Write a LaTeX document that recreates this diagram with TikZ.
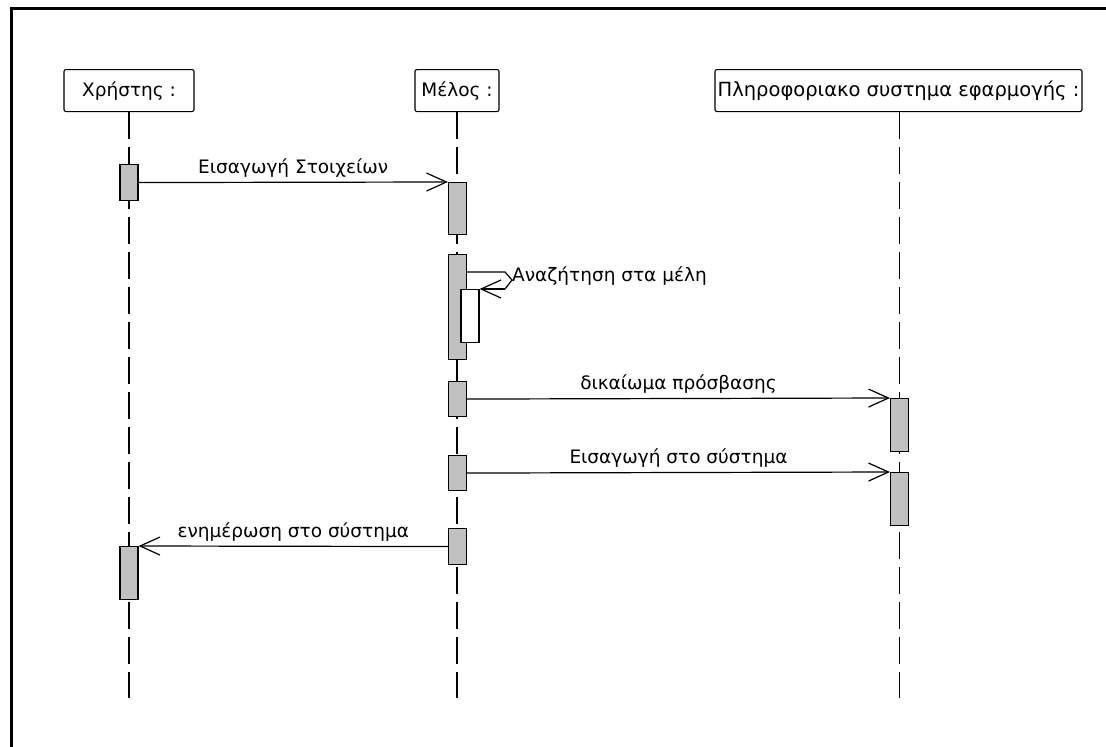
\documentclass[tikz,border=0pt]{standalone}
\usepackage{fontspec}
\setmainfont{DejaVu Sans}
\usetikzlibrary{arrows.meta}
\definecolor{actgray}{HTML}{C0C0C0}
\tikzset{
  txt/.style={font=\fontsize{18.5}{21}\selectfont},
  head/.style={txt, draw, rounded corners=2pt, line width=1.1pt, minimum height=42pt, inner sep=0pt, anchor=north},
  life/.style={line width=1.1pt, dash pattern=on 27pt off 8pt},
  act/.style={draw, fill=actgray, line width=1.1pt, minimum width=18pt, inner sep=0pt, anchor=north},
  nested/.style={draw, fill=white, line width=1.1pt, minimum width=18pt, inner sep=0pt, anchor=north},
  msg/.style={line width=1.2pt, -{Straight Barb[length=20pt,width=18pt,line width=1.2pt]}},
  lbl/.style={txt, anchor=base, yshift=9pt},
  frameline/.style={line width=3pt}
}
\begin{document}
\begin{tikzpicture}[x=1pt,y=-1pt]
\useasboundingbox (0,0) rectangle (1106,747);
\fill[white] (0,0) rectangle (1106,747);
% frame
\draw[frameline] (11,747) -- (11,8.5) -- (1106,8.5);
% heads
\node[head, minimum width=130pt] (hu) at (129,69) {Χρήστης :};
\node[head, minimum width=84pt] (hm) at (457,69) {Μέλος :};
\node[head, minimum width=367pt, font=\fontsize{19.5}{22}\selectfont] (hs) at (898.5,69) {Πληροφοριακο συστημα εφαρμογής :};
% lifeline ends
\coordinate (eu) at (129,698);
\coordinate (em) at (457,698);
\coordinate (es) at (899.5,698);
\draw[life] (hu.south) -- (eu);
\draw[life] (hm.south) -- (em);
\draw[life] (hs.south -| es) -- (es);
% activations
\node[act, minimum height=36pt] (ua1) at (129,164) {};
\node[act, minimum height=53pt] (ua2) at (129,546) {};
\node[act, minimum height=52pt] (ma1) at (457.5,182) {};
\node[act, minimum height=105pt] (ma2) at (457.5,254) {};
\node[nested, minimum height=53pt] (mn) at (470,289) {};
\node[act, minimum height=35pt] (ma3) at (457.5,381) {};
\node[act, minimum height=35pt] (ma4) at (457.5,455) {};
\node[act, minimum height=36pt] (ma5) at (457.5,528) {};
\node[act, minimum height=53pt] (sa1) at (899.5,398) {};
\node[act, minimum height=53pt] (sa2) at (899.5,472) {};
% messages
\draw[msg] (ua1.east) -- (ma1.north west) node[lbl, midway] {Εισαγωγή Στοιχείων};
\coordinate (s1) at (505,272);
\coordinate (s2) at (512,280);
\coordinate (s3) at (505,289);
\draw[line width=1.2pt] (ma2.east |- s1) -- (s1) -- (s2) -- (s3);
\draw[msg] (s3) -- (mn.north east);
\node[txt, anchor=west, inner sep=0pt] (lself) at (512,276) {Αναζήτηση στα μέλη};
\draw[msg] (ma3.east) -- (sa1.north west) node[lbl, midway] {δικαίωμα πρόσβασης};
\draw[msg] (ma4.east) -- (sa2.north west) node[lbl, midway] {Εισαγωγή στο σύστημα};
\draw[msg] (ma5.west) -- (ua2.north east) node[lbl, midway] {ενημέρωση στο σύστημα};
\end{tikzpicture}
\end{document}
